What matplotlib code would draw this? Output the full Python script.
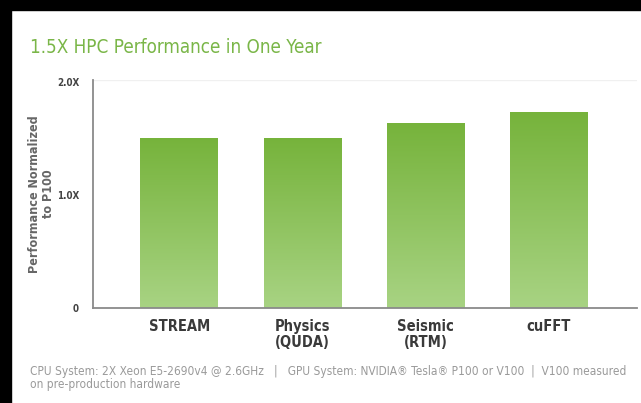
import numpy as np
import matplotlib.pyplot as plt
from matplotlib.patches import Rectangle
from matplotlib.colors import LinearSegmentedColormap

categories = ["STREAM", "Physics\n(QUDA)", "Seismic\n(RTM)", "cuFFT"]
values = [1.51, 1.51, 1.64, 1.74]
yticks = [0, 1.0, 2.0]
ytick_labels = ["0", "1.0X", "2.0X"]

plt.rcParams['font.family'] = ["DejaVu Sans"]
plt.rcParams['font.stretch'] = "condensed"

fig = plt.figure(figsize=(6.41, 4.03), dpi=100)
fig.patch.set_facecolor("white")

# black frame strips from the screenshot
fig.patches.append(Rectangle((0, 1 - 10 / 403), 1, 10 / 403, transform=fig.transFigure,
                             color="black", zorder=0))
fig.patches.append(Rectangle((0, 0), 11 / 641, 1, transform=fig.transFigure,
                             color="black", zorder=0))

ax = fig.add_axes([93 / 641, 1 - 308 / 403, (637 - 93) / 641, (308 - 80) / 403])

x = np.arange(len(categories))
bars = ax.bar(x, values, width=0.63, color="none", edgecolor="none")

# vertical gradient in each bar
cmap = LinearSegmentedColormap.from_list("g", ["#a8d383", "#76b33b"])
grad = np.linspace(0, 1, 256).reshape(-1, 1)
for b in bars:
    x0, w, h = b.get_x(), b.get_width(), b.get_height()
    im = ax.imshow(grad, cmap=cmap, aspect="auto", origin="lower",
                   extent=[x0, x0 + w, 0, h], zorder=2)
    im.set_clip_path(b)

ax.set_xlim(-0.70, 3.715)
ax.set_ylim(0, 2.02)
ax.axhline(2.02, color="#f0f0f0", lw=1, zorder=1)

ax.set_yticks(yticks)
ax.set_yticklabels(ytick_labels, fontsize=7, fontweight="bold", color="#444444")
ax.set_xticks(x)
ax.set_xticklabels(categories, fontsize=10.5, fontweight="bold", color="#3a3a3a",
                   linespacing=1.05)
ax.tick_params(axis="both", length=0)
ax.tick_params(axis="y", pad=10)
ax.tick_params(axis="x", pad=8)

for s in ["top", "right"]:
    ax.spines[s].set_visible(False)
for s in ["left", "bottom"]:
    ax.spines[s].set_color("#8a8a8a")
    ax.spines[s].set_linewidth(1.3)

ax.set_ylabel("Performance Normalized\nto P100", fontsize=9, fontweight="bold",
              color="#666666", linespacing=1.15, labelpad=1)

fig.text(30 / 641, 1 - 53 / 403, "1.5X HPC Performance in One Year",
         fontsize=13.5, color="#7ab648", ha="left", va="baseline")

fig.text(30 / 641, 1 - 388 / 403,
         "CPU System: 2X Xeon E5-2690v4 @ 2.6GHz   |   GPU System: NVIDIA\u00ae Tesla\u00ae P100 or V100  |  V100 measured\non pre-production hardware",
         fontsize=8.55, color="#9a9a9a", ha="left", va="baseline", linespacing=0.97)

fig.savefig("out.png", dpi=100)
